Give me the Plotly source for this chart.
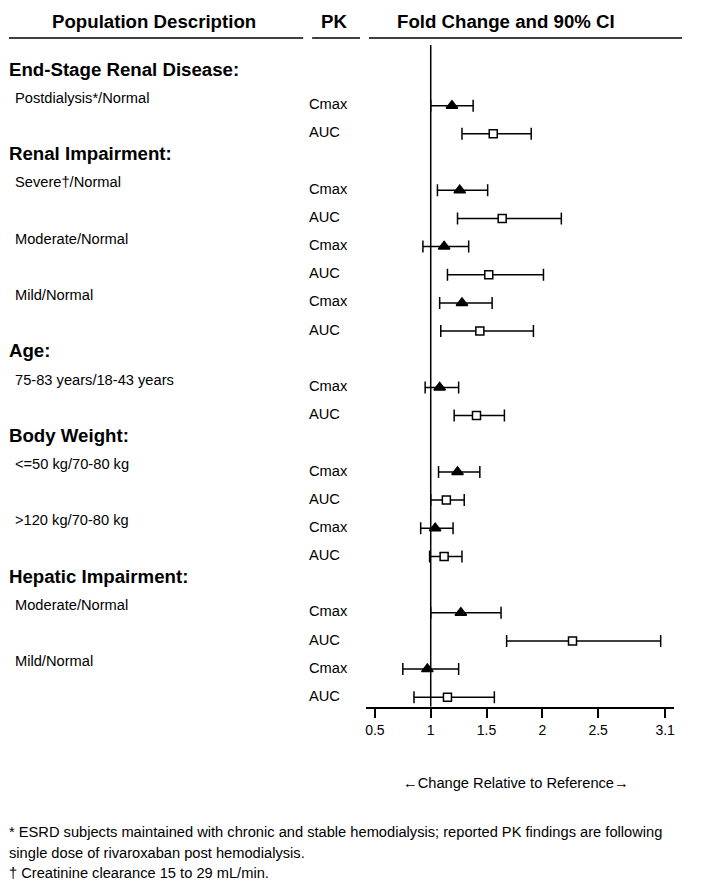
import plotly.graph_objects as go

# ---------------- data ----------------
group_titles = ["End-Stage Renal Disease:", "Renal Impairment:", "Age:",
                "Body Weight:", "Hepatic Impairment:"]
group_subgroups = [
    ["Postdialysis*/Normal"],
    ["Severe\u2020/Normal", "Moderate/Normal", "Mild/Normal"],
    ["75-83 years/18-43 years"],
    ["<=50 kg/70-80 kg", ">120 kg/70-80 kg"],
    ["Moderate/Normal", "Mild/Normal"],
]
pk_params = ["Cmax", "AUC"]

# fold change, lower and upper 90% CI, in row order (Cmax, AUC per subgroup)
fold = [1.19, 1.56,
        1.26, 1.64, 1.12, 1.52, 1.28, 1.44,
        1.08, 1.41,
        1.24, 1.14, 1.04, 1.12,
        1.27, 2.27, 0.97, 1.15]
ci_low = [1.00, 1.28,
          1.06, 1.24, 0.93, 1.15, 1.08, 1.09,
          0.95, 1.21,
          1.07, 1.00, 0.91, 0.99,
          1.00, 1.68, 0.75, 0.85]
ci_high = [1.38, 1.90,
           1.51, 2.17, 1.34, 2.01, 1.55, 1.92,
           1.25, 1.66,
           1.44, 1.30, 1.20, 1.28,
           1.63, 3.06, 1.25, 1.57]

tick_vals = [0.5, 1, 1.5, 2, 2.5, 3.1]
tick_text = ["0.5", "1", "1.5", "2", "2.5", "3.1"]

headers = ["Population Description", "PK", "Fold Change and 90% CI"]
x_label = "\u2190Change Relative to Reference\u2192"
footnotes = [
    "* ESRD subjects maintained with chronic and stable hemodialysis; reported PK findings are following",
    "single dose of rivaroxaban post hemodialysis.",
    "\u2020 Creatinine clearance 15 to 29 mL/min.",
]

# ---------------- layout helpers ----------------
PAGE_W, PAGE_H = 706, 889
OFF = 8  # page body margin
W, H = PAGE_W - OFF, PAGE_H - OFF
FONT = "Liberation Sans, Arial, sans-serif"
REG = 14.67
BOLD = 18.67

def px(x):
    return (x - OFF) / W

def py(y):
    return 1 - (y - OFF) / H

row_y, row_pk, heading_y, sub_y, sub_text = [], [], [], [], []
pos = -1
for title, subs in zip(group_titles, group_subgroups):
    heading_y.append(pos - 0.3)
    pos += 1
    for s in subs:
        sub_y.append(pos - 0.28)
        sub_text.append(s)
        for p in pk_params:
            row_y.append(pos)
            row_pk.append(p)
            pos += 1

ROW0, STEP = 105.7, 28.17      # page y of first row and row pitch
AXIS_Y = 706.7                  # page y of x axis line
y_top = (OFF - ROW0) / STEP
y_bot = (AXIS_Y - ROW0) / STEP

fig = go.Figure()

for p, sym, fillc, size in [("Cmax", "triangle-up", "black", 10),
                            ("AUC", "square", "white", 8)]:
    idx = [i for i, q in enumerate(row_pk) if q == p]
    fig.add_trace(go.Scatter(
        x=[fold[i] for i in idx],
        y=[row_y[i] for i in idx],
        mode="markers",
        marker=dict(symbol=sym, size=size, color=fillc,
                    line=dict(color="black", width=1.5)),
        error_x=dict(type="data", symmetric=False,
                     array=[ci_high[i] - fold[i] for i in idx],
                     arrayminus=[fold[i] - ci_low[i] for i in idx],
                     color="black", thickness=1.5, width=6),
        showlegend=False, cliponaxis=False,
    ))

annotations = []
shapes = []

# headers
for txt, cx in zip(headers, [153, 334, 506]):
    annotations.append(dict(x=px(cx), y=py(21), xref="paper", yref="paper",
                            text="<b>%s</b>" % txt, showarrow=False,
                            xanchor="center", yanchor="middle",
                            font=dict(family=FONT, size=BOLD, color="black")))
for x0, x1 in [(8, 303), (312, 360), (369, 683)]:
    shapes.append(dict(type="line", xref="paper", yref="paper",
                       x0=px(x0), x1=px(x1), y0=py(38), y1=py(38),
                       line=dict(color="black", width=1.5)))

# group titles
for t, y in zip(group_titles, heading_y):
    annotations.append(dict(x=px(8), y=y, xref="paper", yref="y",
                            text="<b>%s</b>" % t, showarrow=False,
                            xanchor="left", yanchor="middle",
                            borderpad=0, borderwidth=0,
                            font=dict(family=FONT, size=BOLD, color="black")))
# subgroup labels
for t, y in zip(sub_text, sub_y):
    annotations.append(dict(x=px(12), y=y, xref="paper", yref="y",
                            text=t.replace("<", "&lt;").replace(">", "&gt;"),
                            showarrow=False,
                            xanchor="left", yanchor="middle",
                            font=dict(family=FONT, size=REG, color="black")))
# PK labels
for t, y in zip(row_pk, row_y):
    annotations.append(dict(x=px(307), y=y - 0.05, xref="paper", yref="y",
                            text=t, showarrow=False,
                            xanchor="left", yanchor="middle",
                            font=dict(family=FONT, size=REG, color="black")))

# axis caption
annotations.append(dict(x=px(516), y=py(783), xref="paper", yref="paper",
                        text=x_label, showarrow=False,
                        xanchor="center", yanchor="middle",
                        font=dict(family=FONT, size=REG, color="black")))
# footnotes
for t, yy in zip(footnotes, [832, 853, 873]):
    annotations.append(dict(x=px(8), y=py(yy), xref="paper", yref="paper",
                            text=t, showarrow=False,
                            xanchor="left", yanchor="middle",
                            borderpad=0, borderwidth=0,
                            font=dict(family=FONT, size=REG, color="black")))

# reference line at 1
shapes.append(dict(type="line", xref="x", yref="y", x0=1, x1=1,
                   y0=(45 - ROW0) / STEP, y1=y_bot,
                   line=dict(color="black", width=1.5)))

fig.update_layout(
    width=W, height=H,
    margin=dict(l=0, r=0, t=0, b=0),
    paper_bgcolor="white", plot_bgcolor="white",
    xaxis=dict(domain=[px(366), px(675)], range=[0.42, 3.18],
               tickvals=tick_vals, ticktext=tick_text,
               showline=True, linecolor="black", linewidth=1.5,
               ticks="outside", ticklen=10, tickwidth=1.5, tickcolor="black",
               showgrid=False, zeroline=False,
               tickfont=dict(family=FONT, size=14, color="black")),
    yaxis=dict(domain=[py(AXIS_Y), 1], range=[y_bot, y_top],
               visible=False, showgrid=False, zeroline=False),
    annotations=annotations, shapes=shapes,
    font=dict(family=FONT, color="black"),
)

fig.write_html("out.html")
